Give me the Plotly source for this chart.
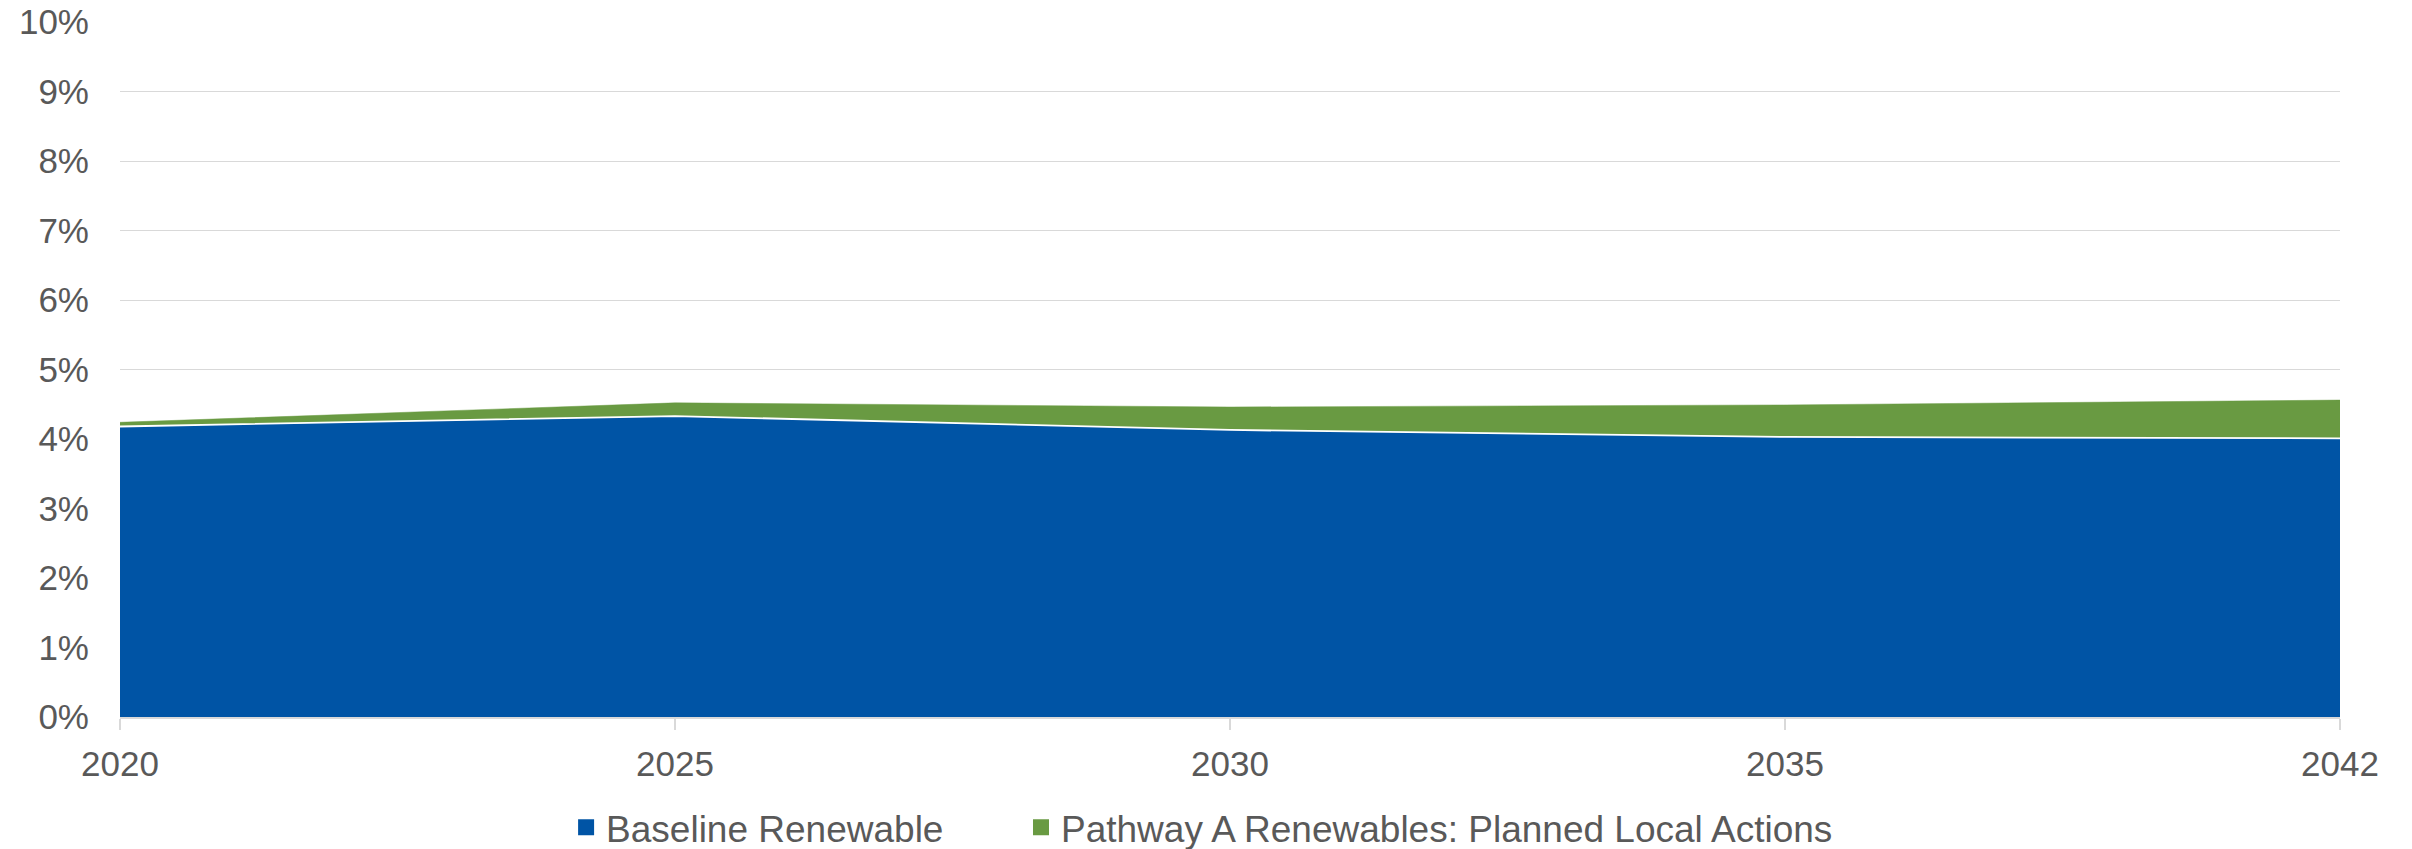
import plotly.graph_objects as go

# Renewable share of supply (%), stacked by pathway
years = ["2020", "2025", "2030", "2035", "2042"]
baseline_renewable = [4.18, 4.33, 4.13, 4.03, 4.01]
pathway_a_local_actions = [0.06, 0.19, 0.33, 0.46, 0.55]

series_names = ["Baseline Renewable", "Pathway A Renewables: Planned Local Actions"]

y_ticks = [0, 1, 2, 3, 4, 5, 6, 7, 8, 9, 10]
y_tick_text = [f"{v}%" for v in y_ticks]

BLUE = "#0054A5"
GREEN = "#699A42"
TEXT = "#595959"
GRID = "#D9D9D9"
FONT = "Liberation Sans, Arial, sans-serif"
FS = 35
LEGEND_FS = 37

fig = go.Figure()

fig.add_trace(go.Scatter(
    x=years, y=baseline_renewable, name=series_names[0],
    stackgroup="one", mode="lines",
    line=dict(color="white", width=1.8),
    fillcolor=BLUE, showlegend=False,
))
fig.add_trace(go.Scatter(
    x=years, y=pathway_a_local_actions, name=series_names[1],
    stackgroup="one", mode="lines",
    line=dict(color=GREEN, width=0.5),
    fillcolor=GREEN, showlegend=False,
))

# Square legend keys, one legend box per series
for name, color, leg in [(series_names[0], BLUE, "legend"),
                         (series_names[1], GREEN, "legend2")]:
    fig.add_trace(go.Scatter(
        x=[None], y=[None], mode="markers", name=name,
        marker=dict(symbol="square", size=17, color=color),
        showlegend=True, legend=leg,
    ))

legend_common = dict(
    orientation="h", xref="container", yref="container",
    xanchor="left", y=0.025, yanchor="middle",
    font=dict(family=FONT, size=LEGEND_FS, color=TEXT),
    itemwidth=30, bgcolor="rgba(0,0,0,0)",
)

fig.update_layout(
    width=2412, height=849,
    margin=dict(l=120, r=72, t=22, b=132),
    paper_bgcolor="white", plot_bgcolor="white",
    font=dict(family=FONT, size=FS, color=TEXT),
    legend=dict(x=0.2347, **legend_common),
    legend2=dict(x=0.4233, **legend_common),
    showlegend=True,
)

fig.update_xaxes(
    type="category", range=[0, 4], automargin=False,
    showgrid=False, zeroline=False,
    showline=True, linecolor=GRID, linewidth=1.5,
    ticks="outside", ticklen=11, tickcolor=GRID, tickwidth=1.5,
    tickfont=dict(family=FONT, size=FS, color=TEXT),
    ticklabelstandoff=4,
)
fig.update_yaxes(
    range=[0, 10], tickvals=y_ticks, ticktext=y_tick_text, automargin=False,
    showgrid=True, gridcolor=GRID, gridwidth=1.2,
    zeroline=False, showline=False, ticks="",
    tickfont=dict(family=FONT, size=FS, color=TEXT),
    ticklabelstandoff=30,
)

fig.write_html("out.html")
